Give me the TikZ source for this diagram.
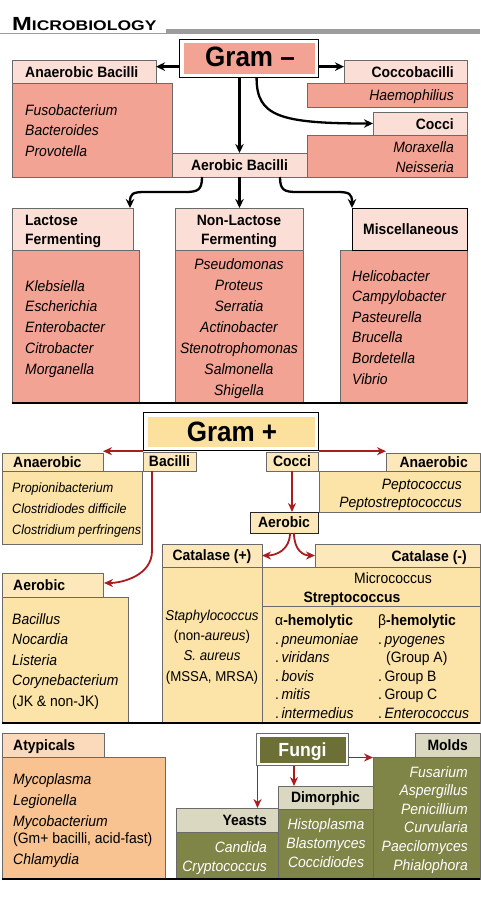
\documentclass[tikz,border=0pt]{standalone}
\usepackage{fontspec}
\setmainfont{Liberation Sans}[FakeStretch=0.93]
\newfontfamily\ttlfont{Liberation Sans}[FakeStretch=1.25]
\usetikzlibrary{arrows.meta,calc}
\definecolor{pinkL}{HTML}{FBDED6}
\definecolor{salmon}{HTML}{F2A394}
\definecolor{yelL}{HTML}{FDE8BC}
\definecolor{yelB}{HTML}{FCE3A8}
\definecolor{yelG}{HTML}{FBE09E}
\definecolor{orgL}{HTML}{FBD9BB}
\definecolor{orgB}{HTML}{F8C391}
\definecolor{oliveD}{HTML}{6C6F36}
\definecolor{oliveB}{HTML}{7F8447}
\definecolor{beige}{HTML}{DAD8C1}
\definecolor{redA}{HTML}{A91C20}
\definecolor{bord}{HTML}{6A6A6A}
\definecolor{barG}{HTML}{9C9C9C}
\newcommand\mkbox[6]{\node[bx,fill=#6,minimum width={#4-#2},minimum height={#5-#3}] (#1) at (#2,#3) {};}
\begin{document}
\begin{tikzpicture}[x=1pt,y=-1pt,
  bx/.style={draw=bord,line width=0.8pt,inner sep=0pt,outer sep=0pt,anchor=north west},
  hd/.style={inner sep=0pt,yshift=-2.5pt,font=\fontsize{15}{18}\selectfont\bfseries},
  itx/.style={inner sep=0pt,yshift=-2.5pt,font=\fontsize{15}{18}\selectfont\itshape},
  sitx/.style={inner sep=0pt,yshift=-2.5pt,font=\fontsize{13.5}{18}\selectfont\itshape},
  rg/.style={inner sep=0pt,yshift=-2.5pt,font=\fontsize{15}{18}\selectfont},
  srg/.style={inner sep=0pt,yshift=-2.5pt,font=\fontsize{14.3}{18}\selectfont},
  wit/.style={inner sep=0pt,yshift=-2.5pt,text=white,font=\fontsize{15}{18}\selectfont\itshape},
  barr/.style={line width=2.3pt,-{Stealth[length=9pt,width=8.5pt]}},
  rarr/.style={draw=redA,line width=1.8pt,-{Stealth[length=9pt,width=8pt]}},
  baseln/.style={line width=1.5pt}]
\fill[white] (0,0) rectangle (480,900);
\path[use as bounding box] (0,0) rectangle (480,900);
% title
\node[anchor=base west,inner sep=0pt] (title) at (12,30) {\ttlfont\bfseries\fontsize{19}{19}\selectfont M\fontsize{14}{14}\selectfont ICROBIOLOGY};
\fill[barG] (166,29) rectangle (480,34);
\draw[barG,line width=1pt] (0,33.5) -- (166,33.5);
% ===== Gram - =====
\node[draw=black,line width=1.2pt,fill=white,anchor=north west,minimum width=139pt,minimum height=38pt,inner sep=0pt] (gramN) at (179,39) {};
\node[fill=salmon,minimum width=131pt,minimum height=31pt,inner sep=0pt] (gramNi) at (gramN.center) {};
\node[anchor=base,inner sep=0pt,font=\fontsize{28}{28}\selectfont\bfseries] (gramNt) at (250,66) {Gram –};
\mkbox{anbB}{12}{83}{172}{177}{salmon}
\mkbox{anbH}{12}{60}{156}{83}{pinkL}
\mkbox{cbB}{307}{83}{467}{107}{salmon}
\mkbox{cbH}{344}{60}{467}{83}{pinkL}
\mkbox{ccB}{307}{135}{467}{177}{salmon}
\mkbox{ccH}{373}{112}{467}{135}{pinkL}
\mkbox{abH}{172}{153}{307}{177}{pinkL}
\node[hd,anchor=mid west] (anbT) at (25,72) {Anaerobic Bacilli};
\foreach \itm [count=\i] in {Fusobacterium,Bacteroides,Provotella}
  \node[itx,anchor=mid west] (anb\i) at (25,{110+20.5*(\i-1)}) {\itm};
\node[hd,anchor=mid east] (cbT) at (454,72) {Coccobacilli};
\node[itx,anchor=mid east] (cb1) at (454,95) {Haemophilius};
\node[hd,anchor=mid east] (ccT) at (454,124) {Cocci};
\node[itx,anchor=mid east] (cc1) at (454,147) {Moraxella};
\node[itx,anchor=mid east] (cc2) at (454,167) {Neisseria};
\node[hd,anchor=mid] (abT) at (abH.center) {Aerobic Bacilli};
% lower boxes
\mkbox{lfB}{12}{250}{139}{403}{salmon}
\mkbox{lfH}{12}{208}{133}{250}{pinkL}
\mkbox{nlB}{175}{250}{303}{403}{salmon}
\mkbox{nlH}{175}{208}{303}{250}{pinkL}
\mkbox{msB}{340}{250}{467}{403}{salmon}
\node[bx,draw=black,fill=pinkL,minimum width=115pt,minimum height=42pt] (msH) at (352,208) {};
\node[hd,anchor=mid west] (lfT1) at (25,220) {Lactose};
\node[hd,anchor=mid west] (lfT2) at (25,239) {Fermenting};
\node[hd,anchor=mid] (nlT1) at (239,220) {Non-Lactose};
\node[hd,anchor=mid] (nlT2) at (239,239) {Fermenting};
\node[hd,anchor=mid west] (msT) at (363,229) {Miscellaneous};
\foreach \itm [count=\i] in {Klebsiella,Escherichia,Enterobacter,Citrobacter,Morganella}
  \node[itx,anchor=mid west] (lf\i) at (25,{286+20.75*(\i-1)}) {\itm};
\foreach \itm [count=\i] in {Pseudomonas,Proteus,Serratia,Actinobacter,Stenotrophomonas,Salmonella,Shigella}
  \node[itx,anchor=mid] (nl\i) at (239,{264+21*(\i-1)}) {\itm};
\foreach \itm [count=\i] in {Helicobacter,Campylobacter,Pasteurella,Brucella,Bordetella,Vibrio}
  \node[itx,anchor=mid west] (ms\i) at (352,{276+20.6*(\i-1)}) {\itm};
\draw[baseln] (lfB.south west) -- (msB.south east);
% arrows Gram -
\coordinate (gl) at ([yshift=-8pt]gramN.west);
\coordinate (gr) at ([yshift=-8pt]gramN.east);
\draw[barr] (gl) -- (gl -| anbH.east);
\draw[barr] (gr) -- (gr -| cbH.west);
\draw[barr] (abH.north |- gramN.south) -- (abH.north);
\coordinate (gc) at ([xshift=7.5pt]gramN.south);
\draw[barr] (gc) .. controls ($(gc)+(0,38)$) and ($(ccH.west)+(-93,0)$) .. (ccH.west);
\coordinate (al) at ($(abH.south west)+(30,0)$);
\coordinate (ar) at ($(abH.south east)+(-27,0)$);
\coordinate (lfA) at ($(lfH.north east)+(-3,0)$);
\draw[barr] (al) .. controls ($(al)+(0,13)$) and ($(al)+(-4,15)$) .. ($(al)+(-17,15)$) -- ($(lfA)+(15,-16)$) .. controls ($(lfA)+(2,-16)$) and ($(lfA)+(0,-14)$) .. (lfA);
\draw[barr] (ar) .. controls ($(ar)+(0,13)$) and ($(ar)+(4,15)$) .. ($(ar)+(17,15)$) -- ($(msH.north west)+(-15,-16)$) .. controls ($(msH.north west)+(-2,-16)$) and ($(msH.north west)+(0,-14)$) .. (msH.north west);
\draw[barr] (abH.south) -- (abH.south |- nlH.north);
% ===== Gram + =====
\node[draw=black,line width=1.2pt,fill=white,anchor=north west,minimum width=175pt,minimum height=38pt,inner sep=0pt] (gramP) at (143,412) {};
\node[fill=yelG,minimum width=167pt,minimum height=30pt,inner sep=0pt] (gramPi) at (gramP.center) {};
\node[anchor=base,inner sep=0pt,font=\fontsize{28}{28}\selectfont\bfseries] (gramPt) at (232,441) {Gram +};
\mkbox{bacL}{143}{452}{196}{471}{yelL}
\mkbox{cocL}{266}{452}{318}{471}{yelL}
\mkbox{aanB}{2}{471}{142}{544}{yelB}
\mkbox{aanH}{2}{453}{103}{471}{yelL}
\mkbox{ranB}{319}{471}{480}{512}{yelB}
\mkbox{ranH}{386}{453}{480}{471}{yelL}
\node[bx,draw=black!85,fill=yelL,minimum width=68pt,minimum height=21pt] (aerP) at (250,512) {};
\node[hd,anchor=mid] (bacT) at (bacL.center) {Bacilli};
\node[hd,anchor=mid] (cocT) at (cocL.center) {Cocci};
\node[hd,anchor=mid west] (aanT) at (13,462) {Anaerobic};
\node[hd,anchor=mid east] (ranT) at (468,462) {Anaerobic};
\node[hd,anchor=mid] (aerPT) at (aerP.center) {Aerobic};
\foreach \itm [count=\i] in {Propionibacterium,Clostridiodes difficile,Clostridium perfringens}
  \node[sitx,anchor=mid west] (aan\i) at (12,{487+21*(\i-1)}) {\itm};
\node[itx,anchor=mid east] (ran1) at (462,484) {Peptococcus};
\node[itx,anchor=mid east] (ran2) at (462,502) {Peptostreptococcus};
% catalase
\mkbox{catPB}{162}{567}{262}{723}{yelB}
\mkbox{catNB}{262}{567}{480}{723}{yelB}
\mkbox{catP}{162}{544}{262}{567}{yelL}
\mkbox{catN}{315}{544}{480}{567}{yelL}
\draw[draw=bord,line width=0.8pt] ($(catNB.north west)+(0,39)$) -- ($(catNB.north east)+(0,39)$);
\node[hd,anchor=mid] (catPT) at (catP.center) {Catalase (+)};
\node[hd,anchor=mid east] (catNT) at (467,556) {Catalase (-)};
\foreach \itm [count=\i] in {{\textit{Staphylococcus}},{(non-\textit{aureus})},{\textit{S. aureus}},{(MSSA, MRSA)}}
  \node[srg,anchor=mid] (st\i) at (212,{615+20.3*(\i-1)}) {\itm};
\node[rg,anchor=mid] (micro) at (393,578) {Micrococcus};
\node[hd,anchor=mid] (strep) at (352,597) {Streptococcus};
\node[hd,anchor=mid west] (alph) at (275,620) {{\mdseries α}-hemolytic};
\node[hd,anchor=mid west] (bet) at (378,620) {{\mdseries β}-hemolytic};
\foreach \itm [count=\i] in {pneumoniae,viridans,bovis,mitis,intermedius}
  \node[rg,anchor=mid west] (al\i) at (275,{639+18.5*(\i-1)}) {.\hspace{2.5pt}\textit{\itm}};
\foreach \itm [count=\i] in {{.\hspace{2.5pt}\textit{pyogenes}},{\hspace{8pt}(Group A)},{.\hspace{2.5pt}Group B},{.\hspace{2.5pt}Group C},{.\hspace{2.5pt}\textit{Enterococcus}}}
  \node[rg,anchor=mid west] (be\i) at (378,{639+18.5*(\i-1)}) {\itm};
% aerobic bacilli
\mkbox{aerB}{2}{597}{128}{723}{yelB}
\mkbox{aerH}{2}{573}{103}{597}{yelL}
\node[hd,anchor=mid west] (aerHT) at (13,585) {Aerobic};
\foreach \itm [count=\i] in {{\textit{Bacillus}},{\textit{Nocardia}},{\textit{Listeria}},{\textit{Corynebacterium}},{(JK \& non-JK)}}
  \node[rg,anchor=mid west] (ab\i) at (12,{619+20.5*(\i-1)}) {\itm};
\draw[baseln] (aerB.south west) -- (catNB.south east);
% red arrows Gram +
\draw[rarr] (gramP.south west) -- (gramP.south west -| aanH.north east);
\draw[rarr] (gramP.south east) -- (gramP.south east -| ranH.north west);
\coordinate (bs) at ($(bacL.south west)+(9,0)$);
\draw[rarr] (bs) -- ($(bs)+(0,80)$) .. controls ($(bs)+(0,104)$) and ($(aerH.east)+(20,-2)$) .. ($(aerH.east)+(1,-2)$);
\draw[rarr] (cocL.south) -- (cocL.south |- aerP.north);
\coordinate (ae1) at ($(aerP.south)+(6,0)$);
\coordinate (ae2) at ($(aerP.south)+(10,0)$);
\draw[rarr] (ae1) .. controls ($(ae1)+(0,17)$) and ($(catP.east)+(14,0)$) .. (catP.east);
\draw[rarr] (ae2) .. controls ($(ae2)+(0,17)$) and ($(catN.west)+(-12,0)$) .. (catN.west);
% ===== Atypicals & Fungi =====
\mkbox{atB}{2}{757}{165}{879}{orgB}
\mkbox{atH}{2}{733}{104}{757}{orgL}
\node[hd,anchor=mid west] (atT) at (13,745) {Atypicals};
\node[itx,anchor=mid west] (at1) at (13,779) {Mycoplasma};
\node[itx,anchor=mid west] (at2) at (13,800) {Legionella};
\node[itx,anchor=mid west] (at3) at (13,821) {Mycobacterium};
\node[rg,anchor=mid west] (at4) at (13,838) {(Gm+ bacilli, acid-fast)};
\node[itx,anchor=mid west] (at5) at (13,859) {Chlamydia};
\node[draw=bord,line width=1pt,fill=white,anchor=north west,minimum width=92pt,minimum height=32pt,inner sep=0pt] (fungi) at (256,733) {};
\node[fill=oliveD,minimum width=86pt,minimum height=26pt,inner sep=0pt] (fungiIn) at (fungi.center) {};
\node[anchor=base,inner sep=0pt,text=white,font=\fontsize{19}{19}\selectfont\bfseries] (fungiT) at ($(fungi.center)+(0,7)$) {Fungi};
\mkbox{moB}{373}{757}{480}{879}{oliveB}
\mkbox{moH}{415}{733}{480}{757}{beige}
\mkbox{diB}{278}{809}{373}{879}{oliveB}
\mkbox{diH}{278}{786}{373}{809}{beige}
\mkbox{yeB}{176}{832}{278}{879}{oliveB}
\mkbox{yeH}{176}{808}{278}{832}{beige}
\node[hd,anchor=mid east] (moT) at (468,745) {Molds};
\node[hd,anchor=mid] (diT) at (diH.center) {Dimorphic};
\node[hd,anchor=mid east] (yeT) at (267,820) {Yeasts};
\foreach \itm [count=\i] in {Fusarium,Aspergillus,Penicillium,Curvularia,Paecilomyces,Phialophora}
  \node[wit,anchor=mid east] (mo\i) at (468,{772+18.6*(\i-1)}) {\itm};
\foreach \itm [count=\i] in {Histoplasma,Blastomyces,Coccidiodes}
  \node[wit,anchor=mid] (di\i) at (326,{824+19*(\i-1)}) {\itm};
\node[wit,anchor=mid east] (ye1) at (267,847) {Candida};
\node[wit,anchor=mid east] (ye2) at (267,866) {Cryptococcus};
\draw[baseln] (atB.south west) -- (moB.south east);
\coordinate (fr) at ($(fungi.east)+(0,8)$);
\draw[rarr] (fr) -- (fr -| moB.west);
\coordinate (fy) at ($(fungi.south west)+(1.5,0)$);
\draw[rarr] (fy) -- (fy |- yeH.north);
\coordinate (fd) at ($(fungi.south west)+(38,0)$);
\draw[rarr] (fd) -- (fd |- diH.north);
\end{tikzpicture}
\end{document}
